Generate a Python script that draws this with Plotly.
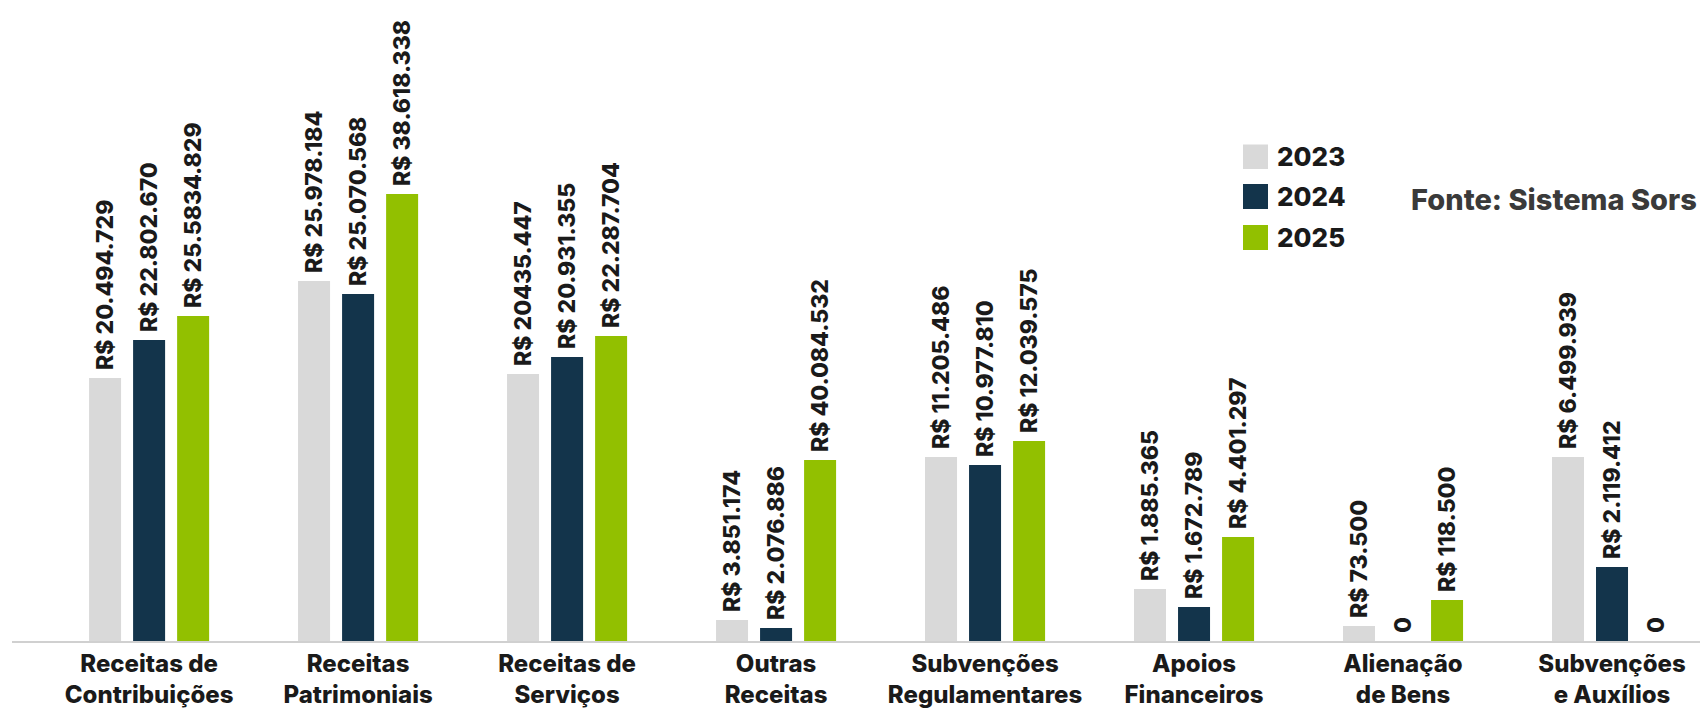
import plotly.graph_objects as go

# ---- data -------------------------------------------------------------
categories = [
    "Receitas de<br>Contribuições",
    "Receitas<br>Patrimoniais",
    "Receitas de<br>Serviços",
    "Outras<br>Receitas",
    "Subvenções<br>Regulamentares",
    "Apoios<br>Financeiros",
    "Alienação<br>de Bens",
    "Subvenções<br>e Auxílios",
]

years = ["2023", "2024", "2025"]

# bar heights as drawn in the infographic (display units)
height_2023 = [263, 360, 267, 21, 184, 52, 15, 184]
height_2024 = [301, 347, 284, 13, 176, 34, 0, 74]
height_2025 = [325, 447, 305, 181, 200, 104, 41, 0]

# value labels as printed on the chart
label_2023 = ["R$ 20.494.729", "R$ 25.978.184", "R$ 20435.447", "R$ 3.851.174",
              "R$ 11.205.486", "R$ 1.885.365", "R$ 73.500", "R$ 6.499.939"]
label_2024 = ["R$ 22.802.670", "R$ 25.070.568", "R$ 20.931.355", "R$ 2.076.886",
              "R$ 10.977.810", "R$ 1.672.789", "0", "R$ 2.119.412"]
label_2025 = ["R$ 25.5834.829", "R$ 38.618.338", "R$ 22.287.704", "R$ 40.084.532",
              "R$ 12.039.575", "R$ 4.401.297", "R$ 118.500", "0"]

colors = ["#d9d9d9", "#13344b", "#92c000"]
source_text = "Fonte: Sistema Sors"

# ---- layout constants ---------------------------------------------------
W, H = 1700, 709
ML, MR, MT, MB = 12, 0, 0, 68
PW, PH = W - ML - MR, H - MT - MB
FONT = "Inter"
TXT = "#1a1a1a"


def px_x(px):
    return (px - ML) / PW


def px_y(py):
    return (H - MB - py) / PH


fig = go.Figure()
for yr, hts, lbls, col in zip(years, [height_2023, height_2024, height_2025],
                              [label_2023, label_2024, label_2025], colors):
    fig.add_trace(go.Bar(
        name=yr, x=categories, y=hts,
        marker=dict(color=col, line=dict(width=0)),
        text=["\u00a0" + t for t in lbls],
        textposition="outside", textangle=-90,
        textfont=dict(family=FONT, size=23, color=TXT, weight=800),
        constraintext="none", cliponaxis=False,
        showlegend=False, hoverinfo="skip",
    ))

# custom legend (large square swatches)
legend_rows = [(144.5, 169), (184, 209), (225, 250)]
for (top, bot), yr, col in zip(legend_rows, years, colors):
    fig.add_shape(type="rect", xref="paper", yref="paper",
                  x0=px_x(1243), x1=px_x(1268), y0=px_y(bot), y1=px_y(top),
                  fillcolor=col, line=dict(width=0))
    fig.add_annotation(xref="paper", yref="paper", x=px_x(1275), y=px_y((top + bot) / 2),
                       text=yr, showarrow=False, xanchor="left", yanchor="middle",
                       font=dict(family=FONT, size=26, color=TXT, weight=800))

fig.add_annotation(xref="paper", yref="paper", x=px_x(1699), y=px_y(199),
                   text=source_text, showarrow=False, xanchor="right", yanchor="middle",
                   font=dict(family=FONT, size=29, color="#3a3a3a", weight=800))

fig.update_layout(
    width=W, height=H,
    margin=dict(l=ML, r=MR, t=MT, b=MB, pad=0),
    paper_bgcolor="white", plot_bgcolor="white",
    barmode="group", bargap=0.368, bargroupgap=0.273,
    xaxis=dict(range=[-0.656, 7.421], showgrid=False, zeroline=False,
               showline=True, linecolor="#d0d0d0", linewidth=2,
               ticks="", tickfont=dict(family=FONT, size=24, color=TXT, weight=800)),
    yaxis=dict(range=[0, PH], visible=False, showgrid=False, zeroline=False),
)

fig.write_html("out.html", config={"displayModeBar": False})
